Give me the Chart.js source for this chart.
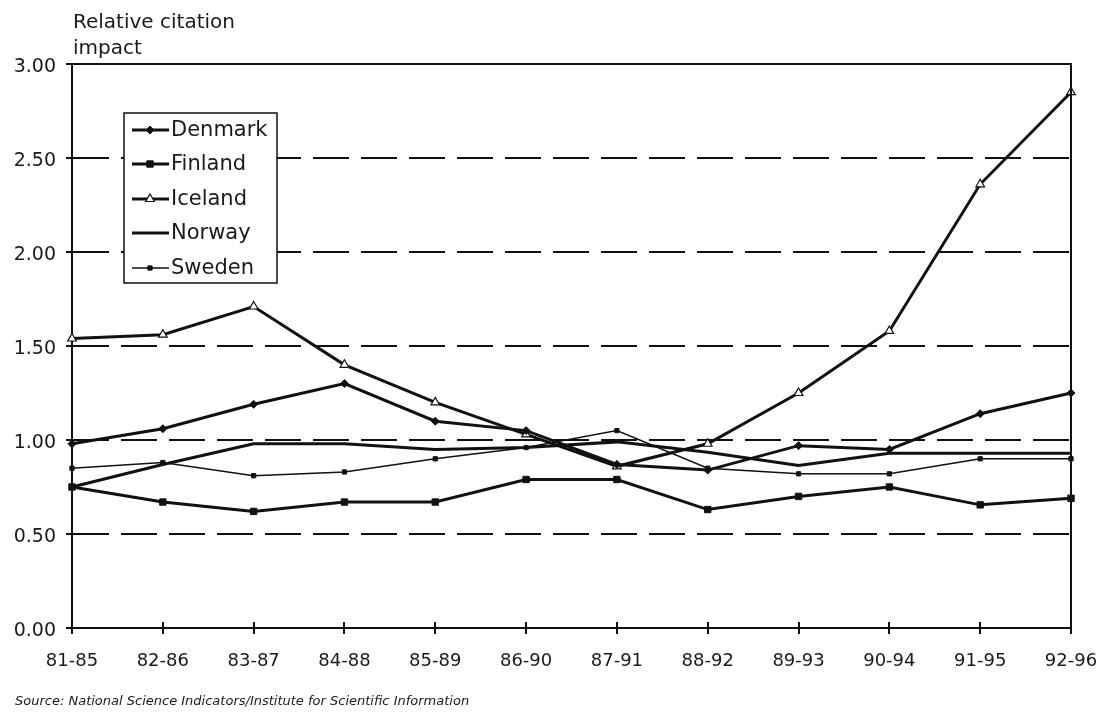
<!DOCTYPE html>
<html>
<head>
<meta charset="utf-8">
<script src="https://cdn.jsdelivr.net/npm/chart.js@4/dist/chart.umd.min.js"></script>
<style>
  html, body { margin: 0; padding: 0; background: #fff; }
  #wrap { width: 1104px; height: 713px; position: relative; }
</style>
</head>
<body>
<div id="wrap"><canvas id="c" width="1104" height="713"></canvas></div>
<script>
// ---- data ----
const categories = ["81-85","82-86","83-87","84-88","85-89","86-90","87-91","88-92","89-93","90-94","91-95","92-96"];
const denmark = [0.98, 1.06, 1.19, 1.30, 1.10, 1.05, 0.87, 0.84, 0.97, 0.95, 1.14, 1.25];
const finland = [0.75, 0.67, 0.62, 0.67, 0.67, 0.79, 0.79, 0.63, 0.70, 0.75, 0.655, 0.69];
const iceland = [1.54, 1.56, 1.71, 1.40, 1.20, 1.03, 0.86, 0.98, 1.25, 1.58, 2.36, 2.85];
const norway  = [0.75, 0.87, 0.98, 0.98, 0.95, 0.96, 0.99, 0.935, 0.865, 0.93, 0.93, 0.93];
const sweden  = [0.85, 0.88, 0.81, 0.83, 0.90, 0.96, 1.05, 0.85, 0.82, 0.82, 0.90, 0.90];
const yTicks = [0, 0.5, 1.0, 1.5, 2.0, 2.5, 3.0];
const axisTitleLines = ["Relative citation", "impact"];
const sourceNote = "Source: National Science Indicators/Institute for Scientific Information";

const INK = '#111';
const FONT = '"DejaVu Sans", "Liberation Sans", sans-serif';

const datasets = [
  { label: 'Denmark', data: denmark, borderColor: INK, backgroundColor: INK, borderWidth: 3,
    pointStyle: 'rectRot', pointRadius: 4, pointBackgroundColor: INK, pointBorderColor: INK, pointBorderWidth: 1 },
  { label: 'Finland', data: finland, borderColor: INK, backgroundColor: INK, borderWidth: 3,
    pointStyle: 'rect', pointRadius: 4.5, pointBackgroundColor: INK, pointBorderColor: INK, pointBorderWidth: 1 },
  { label: 'Iceland', data: iceland, borderColor: INK, backgroundColor: '#fff', borderWidth: 3,
    pointStyle: 'triangle', pointRadius: 5, pointBackgroundColor: '#fff', pointBorderColor: INK, pointBorderWidth: 1.2 },
  { label: 'Norway', data: norway, borderColor: INK, backgroundColor: INK, borderWidth: 3,
    pointStyle: false, pointRadius: 0 },
  { label: 'Sweden', data: sweden, borderColor: INK, backgroundColor: INK, borderWidth: 1.5,
    pointStyle: 'rect', pointRadius: 3, pointBackgroundColor: INK, pointBorderColor: INK, pointBorderWidth: 1 }
];

const LEFT = 72, RIGHT = 1071, TOP = 64, BOTTOM = 628;
const LEGEND_ROWS = [130, 164, 199, 233, 268];

const decor = {
  id: 'decor',
  afterDraw(chart) {
    const ctx = chart.ctx;
    const xs = chart.scales.x, ys = chart.scales.y;
    const a = chart.chartArea;
    ctx.save();
    ctx.strokeStyle = INK;
    ctx.lineWidth = 2;
    // frame top and right
    ctx.beginPath();
    ctx.moveTo(a.left, a.top); ctx.lineTo(a.right, a.top); ctx.lineTo(a.right, a.bottom);
    ctx.stroke();
    // x ticks crossing the axis
    categories.forEach((c, i) => {
      const x = Math.round(xs.getPixelForValue(i));
      ctx.beginPath(); ctx.moveTo(x, a.bottom - 6); ctx.lineTo(x, a.bottom + 6); ctx.stroke();
    });
    // y ticks outside
    yTicks.forEach(v => {
      const y = Math.round(ys.getPixelForValue(v));
      ctx.beginPath(); ctx.moveTo(a.left - 6, y); ctx.lineTo(a.left, y); ctx.stroke();
    });
    // axis title
    ctx.fillStyle = '#1a1a1a';
    ctx.font = '20px ' + FONT;
    ctx.textAlign = 'left';
    ctx.textBaseline = 'alphabetic';
    ctx.fillText(axisTitleLines[0], 73, 28);
    ctx.fillText(axisTitleLines[1], 73, 54);
    // source
    ctx.font = 'italic 13px ' + FONT;
    ctx.textBaseline = 'middle';
    ctx.fillText(sourceNote, 15, 702);

    // legend box
    const bx = 124, by = 113, bw = 153, bh = 170;
    ctx.fillStyle = '#fff';
    ctx.fillRect(bx, by, bw, bh);
    ctx.strokeStyle = INK;
    ctx.lineWidth = 1.5;
    ctx.strokeRect(bx, by, bw, bh);
    chart.data.datasets.forEach((ds, i) => {
      const y = LEGEND_ROWS[i];
      ctx.strokeStyle = INK;
      ctx.lineWidth = ds.borderWidth;
      ctx.beginPath(); ctx.moveTo(132, y); ctx.lineTo(169, y); ctx.stroke();
      if (ds.pointStyle) {
        ctx.save();
        ctx.fillStyle = ds.pointBackgroundColor;
        ctx.strokeStyle = ds.pointBorderColor;
        ctx.lineWidth = ds.pointBorderWidth;
        Chart.helpers.drawPoint(ctx, { pointStyle: ds.pointStyle, radius: ds.pointRadius, borderWidth: ds.pointBorderWidth, rotation: 0 }, 150, y);
        ctx.restore();
      }
      ctx.fillStyle = '#1a1a1a';
      ctx.font = '21px ' + FONT;
      ctx.textBaseline = 'middle';
      ctx.fillText(ds.label, 171, y + 1);
    });
    ctx.restore();
  }
};

new Chart(document.getElementById('c'), {
  type: 'line',
  data: { labels: categories, datasets: datasets },
  options: {
    responsive: false,
    animation: false,
    devicePixelRatio: 1,
    layout: { padding: { left: 0, top: TOP, right: 1104 - RIGHT, bottom: 0 } },
    elements: { line: { tension: 0 } },
    datasets: { line: { clip: false } },
    plugins: { legend: { display: false }, tooltip: { enabled: false }, title: { display: false } },
    scales: {
      x: {
        type: 'category',
        offset: false,
        grid: { display: true, drawOnChartArea: false, drawTicks: true, tickLength: 20, color: 'rgba(0,0,0,0)' },
        border: { display: true, color: INK, width: 2 },
        ticks: { color: '#1a1a1a', font: { family: FONT, size: 18 }, padding: 3, maxRotation: 0, autoSkip: false },
        afterFit(s) { s.height = 713 - BOTTOM; }
      },
      y: {
        min: 0, max: 3,
        afterBuildTicks(s) { s.ticks = yTicks.map(v => ({ value: v })); },
        grid: {
          drawTicks: false,
          lineWidth: 2,
          color: c => (c.tick && (c.tick.value === 0 || c.tick.value === 3)) ? 'rgba(0,0,0,0)' : INK
        },
        border: { display: true, color: INK, width: 2, dash: [36, 12] },
        ticks: { color: '#1a1a1a', font: { family: FONT, size: 19 }, padding: 16, labelOffset: 3,
                 callback: v => Number(v).toFixed(2) },
        afterFit(s) { s.width = LEFT; }
      }
    }
  },
  plugins: [decor]
});
</script>
</body>
</html>
